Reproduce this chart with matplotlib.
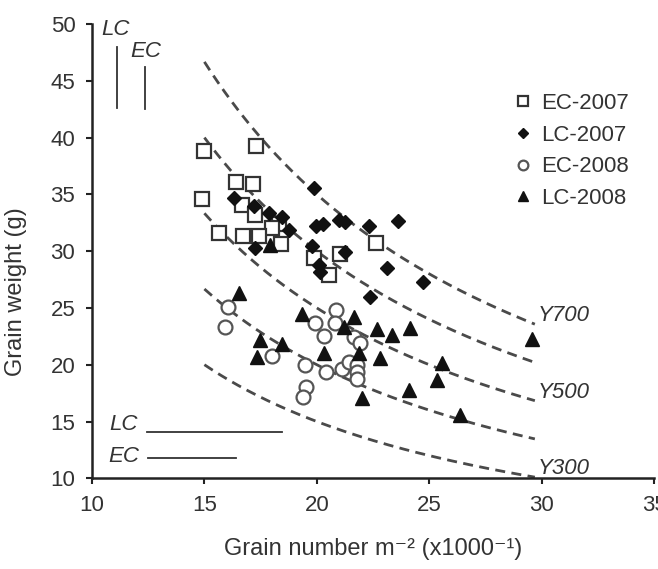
import numpy as np
import matplotlib.pyplot as plt

plt.rcParams['font.family'] = ['Liberation Sans', 'DejaVu Sans']

# ---- data (grain number m-2 x1000, grain weight g) ----
ec07_x = [15.0, 17.29, 14.91, 16.40, 17.16, 16.67, 17.23, 18.30, 18.0, 15.63, 16.71, 17.44,
          18.42, 22.64, 19.86, 21.02, 20.56]
ec07_y = [38.84, 39.25, 34.59, 36.11, 35.88, 34.06, 33.18, 32.36, 32.0, 31.62, 31.33, 31.33,
          30.6, 30.74, 29.37, 29.72, 27.9]

lc07_x = [16.33, 17.22, 17.88, 18.45, 18.78, 17.23, 19.86, 19.98, 20.28, 20.97, 21.27, 22.31,
          23.6, 19.79, 21.27, 20.08, 20.16, 23.13, 24.71, 22.38]
lc07_y = [34.65, 33.97, 33.38, 32.98, 31.86, 30.25, 35.53, 32.21, 32.39, 32.74, 32.59, 32.24,
          32.65, 30.45, 29.95, 28.78, 28.19, 28.49, 27.31, 25.99]

ec08_x = [16.03, 15.92, 18.0, 19.93, 20.87, 20.79, 20.30, 21.64, 21.94, 19.49, 20.42, 21.12,
          21.42, 21.79, 21.79, 21.79, 19.53, 19.39]
ec08_y = [25.11, 23.35, 20.77, 23.64, 24.82, 23.64, 22.53, 22.46, 21.88, 19.97, 19.38, 19.6,
          20.26, 19.97, 19.38, 18.71, 18.06, 17.13]

lc08_x = [17.93, 16.56, 19.34, 21.64, 21.22, 22.68, 24.16, 23.35, 17.48, 18.45, 17.34, 20.3,
          21.89, 22.83, 22.01, 29.59, 25.58, 25.35, 24.09, 26.39]
lc08_y = [30.55, 26.29, 24.46, 24.23, 23.35, 23.12, 23.2, 22.61, 22.17, 21.8, 20.65, 21.06,
          21.0, 20.56, 17.04, 22.24, 20.18, 18.65, 17.77, 15.57]

yield_levels = [700, 600, 500, 400, 300]
yield_labels = ['Y700', None, 'Y500', None, 'Y300']
curve_start, curve_end = 15.0, 29.7

series_labels = ['EC-2007', 'LC-2007', 'EC-2008', 'LC-2008']
x_ticks = [10, 15, 20, 25, 30, 35]
y_ticks = [10, 15, 20, 25, 30, 35, 40, 45, 50]

# ---- figure ----
W, H = 658, 569
fig = plt.figure(figsize=(W / 100, H / 100), dpi=100)
ax = fig.add_axes([92 / W, (H - 478.3) / H, (654 - 92) / W, (478.3 - 24) / H])
ax.set_xlim(10, 35)
ax.set_ylim(10, 50)

# iso-yield curves
dash_color = '#4a4a4a'
for lev, lab in zip(yield_levels, yield_labels):
    xs = np.linspace(curve_start, curve_end, 200)
    ax.plot(xs, lev / xs, color=dash_color, lw=2.0, linestyle=(0, (3.6, 2.3)), zorder=1)
    if lab:
        ax.text(curve_end + 0.12, lev / curve_end + 0.75, lab, fontsize=16, style='italic',
                color='#333333', ha='left', va='center')

# points
h1, = ax.plot(ec07_x, ec07_y, 's', ms=10.5, mfc='white', mec='#333333', mew=1.6,
              ls='none', label=series_labels[0], zorder=3)
h2, = ax.plot(lc07_x, lc07_y, 'D', ms=7.5, mfc='#111111', mec='#111111', mew=1,
              ls='none', label=series_labels[1], zorder=3)
h3, = ax.plot(ec08_x, ec08_y, 'o', ms=10, mfc='white', mec='#555555', mew=1.6,
              ls='none', label=series_labels[2], zorder=3)
h4, = ax.plot(lc08_x, lc08_y, '^', ms=10, mfc='#111111', mec='#111111', mew=1,
              ls='none', label=series_labels[3], zorder=3)

# LSD bars
bar_col = '#333333'
ax.text(10.43, 49.55, 'LC', fontsize=16, style='italic', color='#333333', ha='left', va='center')
ax.plot([11.1, 11.1], [48.0, 42.57], color=bar_col, lw=1.3)
ax.text(11.69, 47.55, 'EC', fontsize=16, style='italic', color='#333333', ha='left', va='center')
ax.plot([12.36, 12.36], [46.23, 42.48], color=bar_col, lw=1.3)
ax.text(10.77, 14.78, 'LC', fontsize=16, style='italic', color='#333333', ha='left', va='center')
ax.plot([12.44, 18.45], [14.05, 14.05], color=bar_col, lw=1.3)
ax.text(10.71, 11.88, 'EC', fontsize=16, style='italic', color='#333333', ha='left', va='center')
ax.plot([12.51, 16.4], [11.76, 11.76], color=bar_col, lw=1.3)

# axes styling
for s in ['top', 'right']:
    ax.spines[s].set_visible(False)
for s in ['left', 'bottom']:
    ax.spines[s].set_linewidth(1.8)
    ax.spines[s].set_color('#222222')
ax.set_xticks(x_ticks)
ax.set_yticks(y_ticks)
ax.tick_params(direction='out', length=4, width=1.5, color='#222222',
               labelsize=16, labelcolor='#333333', pad=8)

ax.set_xlabel('Grain number m\u207b\u00b2 (x1000\u207b\u00b9)', fontsize=17, color='#333333',
              labelpad=16, family=['Liberation Sans', 'DejaVu Sans'])
ax.set_ylabel('Grain weight (g)', fontsize=17, color='#333333')
ax.yaxis.set_label_coords((27 - 92) / (654 - 92), (478.3 - 292) / (478.3 - 24))

leg = ax.legend(handles=[h1, h2, h3, h4], loc='upper left',
                bbox_to_anchor=(512 / W, 1 - 93 / H), bbox_transform=fig.transFigure,
                frameon=False, fontsize=16, markerscale=0.7, handlelength=1.0,
                handletextpad=0.3, labelspacing=0.48, borderpad=0, borderaxespad=0)
for t in leg.get_texts():
    t.set_color('#333333')

fig.savefig('out.png', dpi=100)
